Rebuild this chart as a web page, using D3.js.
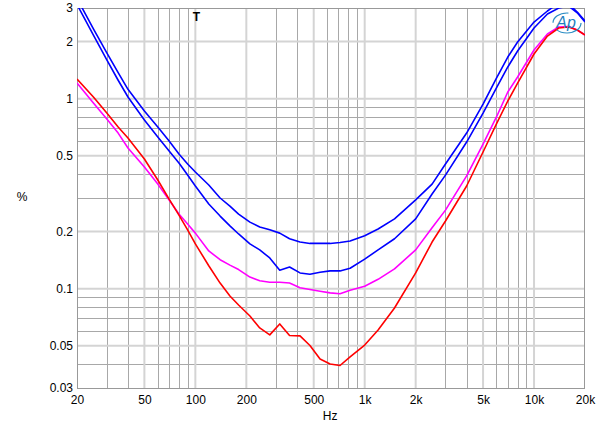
<!DOCTYPE html>
<html>
<head>
<meta charset="utf-8">
<script src="https://cdn.jsdelivr.net/npm/d3@7"></script>
<style>
html,body{margin:0;padding:0;background:#fff;}
svg{display:block;font-family:"Liberation Sans",Arial,sans-serif;}
</style>
</head>
<body>
<svg id="chart" width="600" height="431"></svg>
<script>
// ---- data ----
const freqs = [20,25,30,35,40,50,60,70,80,90,100,120,140,160,180,210,240,275,315,360,415,475,545,625,715,820,1000,1200,1500,2000,2500,3000,4000,5000,6000,7000,8000,10000,12000,14000,16000,18000,20000];
const blueUpper = [3.37,2.33,1.74,1.37,1.12,0.861,0.709,0.598,0.511,0.453,0.411,0.351,0.300,0.272,0.247,0.224,0.211,0.204,0.196,0.183,0.176,0.173,0.173,0.173,0.175,0.178,0.190,0.206,0.233,0.293,0.355,0.453,0.659,0.937,1.284,1.656,1.986,2.531,2.893,3.19,3.15,2.858,2.562];
const blueLower = [3.13,2.16,1.60,1.25,1.02,0.772,0.628,0.530,0.458,0.396,0.347,0.279,0.241,0.214,0.194,0.172,0.160,0.145,0.125,0.130,0.121,0.119,0.122,0.124,0.124,0.128,0.143,0.160,0.183,0.233,0.315,0.396,0.591,0.840,1.138,1.468,1.781,2.354,2.79,3.0,3.07,2.83,2.53];
const magenta = [1.208,0.949,0.782,0.659,0.550,0.437,0.355,0.293,0.247,0.219,0.196,0.158,0.142,0.133,0.126,0.115,0.110,0.108,0.108,0.107,0.101,0.099,0.097,0.095,0.094,0.098,0.103,0.112,0.127,0.160,0.209,0.259,0.392,0.577,0.801,1.084,1.300,1.803,2.189,2.383,2.397,2.298,2.163];
const red = [1.268,1.020,0.840,0.709,0.621,0.481,0.373,0.296,0.244,0.204,0.172,0.132,0.107,0.0915,0.082,0.0718,0.0621,0.0571,0.0652,0.0567,0.0564,0.0502,0.0426,0.0401,0.0394,0.0437,0.0505,0.0606,0.0791,0.121,0.176,0.227,0.347,0.524,0.736,0.972,1.208,1.718,2.136,2.354,2.383,2.298,2.163];

const xMajorTicks = [20,50,100,200,500,1000,2000,5000,10000,20000];
const xMajorLabels = ["20","50","100","200","500","1k","2k","5k","10k","20k"];
const xMinorTicks = [30,40,60,70,80,90,300,400,600,700,800,900,3000,4000,6000,7000,8000,9000];
const yMajorTicks = [0.03,0.05,0.1,0.2,0.5,1,2,3];
const yMajorLabels = ["0.03","0.05","0.1","0.2","0.5","1","2","3"];
const yMinorTicks = [0.04,0.06,0.07,0.08,0.09,0.3,0.4,0.6,0.7,0.8,0.9];

const seriesList = [
  {name:"magenta", values: magenta, color:"#ff00ff"},
  {name:"red", values: red, color:"#ff0000"},
  {name:"blueLower", values: blueLower, color:"#0000ff"},
  {name:"blueUpper", values: blueUpper, color:"#0000ff"}
];

// ---- layout ----
const M = {left:77, top:8, right:15, bottom:43};
const W = 600, H = 431;
const pw = W - M.left - M.right, ph = H - M.top - M.bottom;

const svg = d3.select("#chart");
const x = d3.scaleLog().domain([20,20000]).range([0,pw]);
const y = d3.scaleLog().domain([0.03,3]).range([ph,0]);

const g = svg.append("g").attr("transform",`translate(${M.left},${M.top})`);

svg.append("defs").append("clipPath").attr("id","clip")
  .append("rect").attr("x",0).attr("y",0).attr("width",pw).attr("height",ph);

// grid: minor (darker thin), major (light thick)
g.append("g").selectAll("line").data(xMinorTicks).join("line")
  .attr("x1",d=>Math.round(x(d))+0.5).attr("x2",d=>Math.round(x(d))+0.5)
  .attr("y1",0).attr("y2",ph).attr("stroke","#a8a8a8").attr("stroke-width",1);
g.append("g").selectAll("line").data(yMinorTicks).join("line")
  .attr("y1",d=>Math.round(y(d))+0.5).attr("y2",d=>Math.round(y(d))+0.5)
  .attr("x1",0).attr("x2",pw).attr("stroke","#a8a8a8").attr("stroke-width",1);
g.append("g").selectAll("line").data(xMajorTicks.slice(1,-1)).join("line")
  .attr("x1",d=>x(d)).attr("x2",d=>x(d))
  .attr("y1",0).attr("y2",ph).attr("stroke","#d4d4d4").attr("stroke-width",2);
g.append("g").selectAll("line").data(yMajorTicks.slice(1,-1)).join("line")
  .attr("y1",d=>y(d)).attr("y2",d=>y(d))
  .attr("x1",0).attr("x2",pw).attr("stroke","#d4d4d4").attr("stroke-width",2);

// frame
g.append("rect").attr("x",0.5).attr("y",0.5).attr("width",pw-1).attr("height",ph)
  .attr("fill","none").attr("stroke","#999").attr("stroke-width",1);

// axes labels via d3 axes
const xAxis = d3.axisBottom(x).tickValues(xMajorTicks)
  .tickFormat((d,i)=>xMajorLabels[i]).tickSize(0).tickPadding(7);
const gx = g.append("g").attr("transform",`translate(0,${ph})`).call(xAxis);
gx.select(".domain").remove();
gx.selectAll("text").attr("font-size",12).attr("fill","#000")
  .attr("font-family","Liberation Sans, Arial, sans-serif");

const yAxis = d3.axisLeft(y).tickValues(yMajorTicks)
  .tickFormat((d,i)=>yMajorLabels[i]).tickSize(0).tickPadding(4);
const gy = g.append("g").call(yAxis);
gy.select(".domain").remove();
gy.selectAll("text").attr("font-size",12).attr("fill","#000")
  .attr("font-family","Liberation Sans, Arial, sans-serif");

// titles
svg.append("text").attr("x",22).attr("y",201).attr("text-anchor","middle")
  .attr("font-size",12).text("%");
svg.append("text").attr("x",M.left + x(625)).attr("y",420).attr("text-anchor","middle")
  .attr("font-size",12).text("Hz");

// curves
const line = d3.line().x((d,i)=>x(freqs[i])).y(d=>y(d)).curve(d3.curveLinear);
const cg = g.append("g").attr("clip-path","url(#clip)");
cg.selectAll("path").data(seriesList).join("path")
  .attr("d",d=>line(d.values)).attr("fill","none")
  .attr("stroke",d=>d.color).attr("stroke-width",1.6)
  .attr("stroke-linejoin","round");

// "T" marker
g.append("text").attr("x",x(100)+1).attr("y",10).attr("text-anchor","middle")
  .attr("font-size",12).attr("font-weight","bold").attr("dominant-baseline","middle")
  .text("T");

// Ap logo
const logo = svg.append("g").attr("transform","translate(567,23)");
logo.append("ellipse").attr("cx",0).attr("cy",0).attr("rx",14).attr("ry",10)
  .attr("fill","none").attr("stroke","#2c8ec4").attr("stroke-width",1.2)
  .attr("stroke-dasharray","30 8 20 30");
logo.append("text").attr("x",-1).attr("y",5).attr("text-anchor","middle")
  .attr("font-size",16).attr("font-style","italic").attr("fill","#1f7fbf")
  .attr("font-family","Liberation Sans, Arial, sans-serif").text("Ap");
</script>
</body>
</html>
